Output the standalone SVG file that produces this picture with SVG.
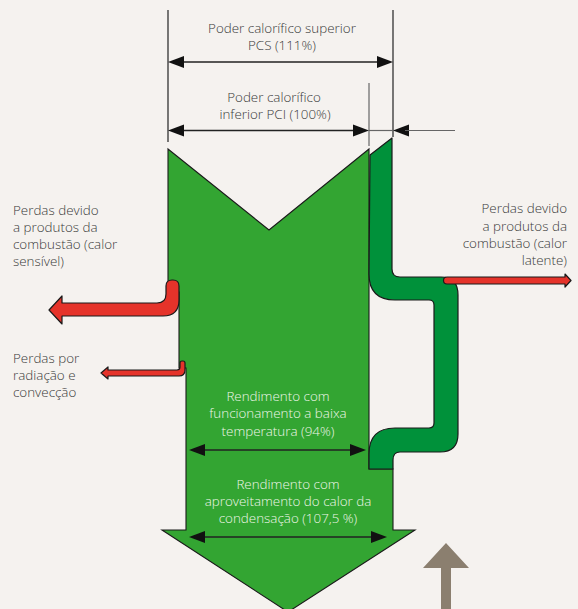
<svg xmlns="http://www.w3.org/2000/svg" width="578" height="609" viewBox="0 0 578 609">
<defs>
<style>
.t{font-family:"Open Sans","Liberation Sans",sans-serif;font-size:13.4px;font-weight:300;fill:#3a3a3a}
.w{font-family:"Open Sans","Liberation Sans",sans-serif;font-size:13.4px;font-weight:300;fill:#eef5e8}
.dim{stroke:#222;stroke-width:1.3;fill:none}
.ext{stroke:#222;stroke-width:1.2;fill:none}
.ext2{stroke:#666;stroke-width:1.2;fill:none}
.red{fill:#e5332a;stroke:#1a1a1a;stroke-width:1.2;stroke-linejoin:round}
.ah{fill:#111}
</style>
</defs>
<rect width="578" height="609" fill="#f5f2ef"/>
<g id="main-arrow">
<polygon points="168,149 269,230 369,149 369,469 393,469 393,530 415,530 288,612 162,530 186,530 186,368 179,368 179,292 168,292" fill="#33a532" stroke="#1a1a1a" stroke-width="1.1" stroke-linejoin="miter"/>
</g>
<g id="condensation-band">
<path d="M370,155 L392,138 L392,269 Q392,277 400,277 L441,277 Q458,277 458,295 L458,434 Q458,452 440,452 L400,452 Q393,452 393,460 L393,469 L369,469 L369,454 Q369,428 395,428 L429,428 Q434,428 434,423 L434,305 Q434,300 429,300 L395,300 Q369,300 369,274 Z" fill="#00913a" stroke="#1a1a1a" stroke-width="1.2" stroke-linejoin="round"/>
</g>
<g id="loss-sensible">
<path class="red" d="M166,286 Q166,280 172,280 L173,280 Q179,280 179,286 L179,300 Q179,316 163,316 L62,316 L62,324 L49,310 L62,296 L62,303 L157,303 Q166,303 166,294 Z"/>
</g>
<g id="loss-radiation">
<path class="red" d="M180,363 Q180,361 182,361 L183,361 Q185,361 185,363 L185,370 Q185,376 179,376 L108,376 L108,379 L101,373 L108,367 L108,370 L177,370 Q180,370 180,367 Z"/>
</g>
<g id="loss-latent">
<path class="red" d="M447,277 L565,277 L565,274 L571,280.5 L565,287 L565,284 L447,284 Q443.5,284 443.5,280.5 Q443.5,277 447,277 Z"/>
</g>
<g id="input-arrow">
<polygon points="446,543 469,568 451,568 451,609 441,609 441,568 423,568" fill="#8b7f6f"/>
</g>
<g id="connectors">
<line class="ext" x1="168" y1="10" x2="168" y2="142"/>
<line class="ext" x1="393" y1="10" x2="393" y2="137"/>
<line class="ext2" x1="369" y1="83" x2="369" y2="146"/>
<line class="dim" x1="180" y1="62" x2="381" y2="62"/>
<polygon class="ah" points="168,62 184,56 184,68"/>
<polygon class="ah" points="393,62 377,56 377,68"/>
<line class="dim" x1="180" y1="130.5" x2="357" y2="130.5"/>
<polygon class="ah" points="168,130.5 184,124.5 184,136.5"/>
<polygon class="ah" points="369,130.5 353,124.5 353,136.5"/>
<line class="ext2" x1="369" y1="130.5" x2="393" y2="130.5"/>
<polygon class="ah" points="393,130.5 409,124.5 409,136.5"/>
<line class="ext2" x1="405" y1="130.5" x2="455" y2="130.5"/>
<line class="dim" x1="200" y1="450" x2="355" y2="450"/>
<polygon class="ah" points="189,450 205,444 205,456"/>
<polygon class="ah" points="366,450 350,444 350,456"/>
<line class="dim" x1="200" y1="537" x2="376" y2="537"/>
<polygon class="ah" points="189,537 205,531 205,543"/>
<polygon class="ah" points="387,537 371,531 371,543"/>
</g>
<g id="labels">
<text class="t" x="282" y="33" text-anchor="middle">Poder calorífico superior</text>
<text class="t" x="282" y="50" text-anchor="middle">PCS (111%)</text>
<text class="t" x="274" y="102" text-anchor="middle">Poder calorífico</text>
<text class="t" x="275" y="119" text-anchor="middle">inferior PCI (100%)</text>
<text class="t" x="13" y="215">Perdas devido</text>
<text class="t" x="13" y="232">a produtos da</text>
<text class="t" x="13" y="249">combustão (calor</text>
<text class="t" x="13" y="266">sensível)</text>
<text class="t" x="13" y="363">Perdas por</text>
<text class="t" x="13" y="380">radiação e</text>
<text class="t" x="13" y="397">convecção</text>
<text class="t" x="567" y="213" text-anchor="end">Perdas devido</text>
<text class="t" x="567" y="231" text-anchor="end">a produtos da</text>
<text class="t" x="567" y="248" text-anchor="end">combustão (calor</text>
<text class="t" x="567" y="265" text-anchor="end">latente)</text>
<text class="w" x="278" y="401" text-anchor="middle">Rendimento com</text>
<text class="w" x="278" y="418" text-anchor="middle">funcionamento a baixa</text>
<text class="w" x="278" y="436" text-anchor="middle">temperatura (94%)</text>
<text class="w" x="288" y="489" text-anchor="middle">Rendimento com</text>
<text class="w" x="288" y="506" text-anchor="middle">aproveitamento do calor da</text>
<text class="w" x="288" y="523" text-anchor="middle">condensação (107,5 %)</text>
</g>
</svg>
